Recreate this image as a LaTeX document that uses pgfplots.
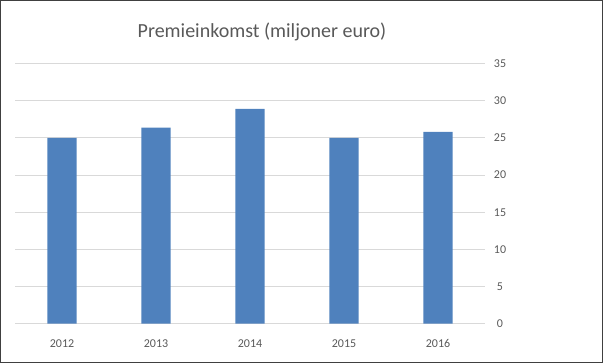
\documentclass[border=0pt]{standalone}
\usepackage{pgfplots}
\pgfplotsset{compat=1.18}
\usepackage{fontspec}
\setmainfont{Carlito}
\definecolor{barblue}{HTML}{4F81BD}
\definecolor{txtgray}{HTML}{595959}
\definecolor{gridgray}{HTML}{D9D9D9}
\begin{document}
\begin{tikzpicture}[x=0.75pt,y=0.75pt]
\useasboundingbox (0,0) rectangle (603,363);
\draw[line width=1.2pt, color=black!75] (0.6,0.6) rectangle (602.4,362.4);
\node[text=txtgray, font=\fontsize{15}{17}\selectfont] at (262,331) {Premieinkomst (miljoner euro)};
\begin{axis}[
  at={(16,53)}, anchor=south west,
  scale only axis,
  width=352.5pt, height=195pt,
  xmin=-0.5, xmax=4.5, ymin=0, ymax=35,
  ytick={0,5,...,35},
  xtick=data,
  xticklabels={2012,2013,2014,2015,2016},
  axis line style={draw=none},
  major tick length=0pt,
  ymajorgrids, grid style={gridgray, line width=0.75pt},
  yticklabel pos=right,
  /pgf/number format/assume math mode=true,
  ticklabel style={text=txtgray, font=\fontsize{9}{11}\selectfont},
  yticklabel style={anchor=center, xshift=11.25pt},
  xticklabel style={anchor=center, yshift=-15pt},
  ybar, bar width=0.31,
]
\addplot[fill=barblue, draw=none] coordinates {(0,25) (1,26.4) (2,28.9) (3,25) (4,25.8)};
\end{axis}
\end{tikzpicture}
\end{document}
